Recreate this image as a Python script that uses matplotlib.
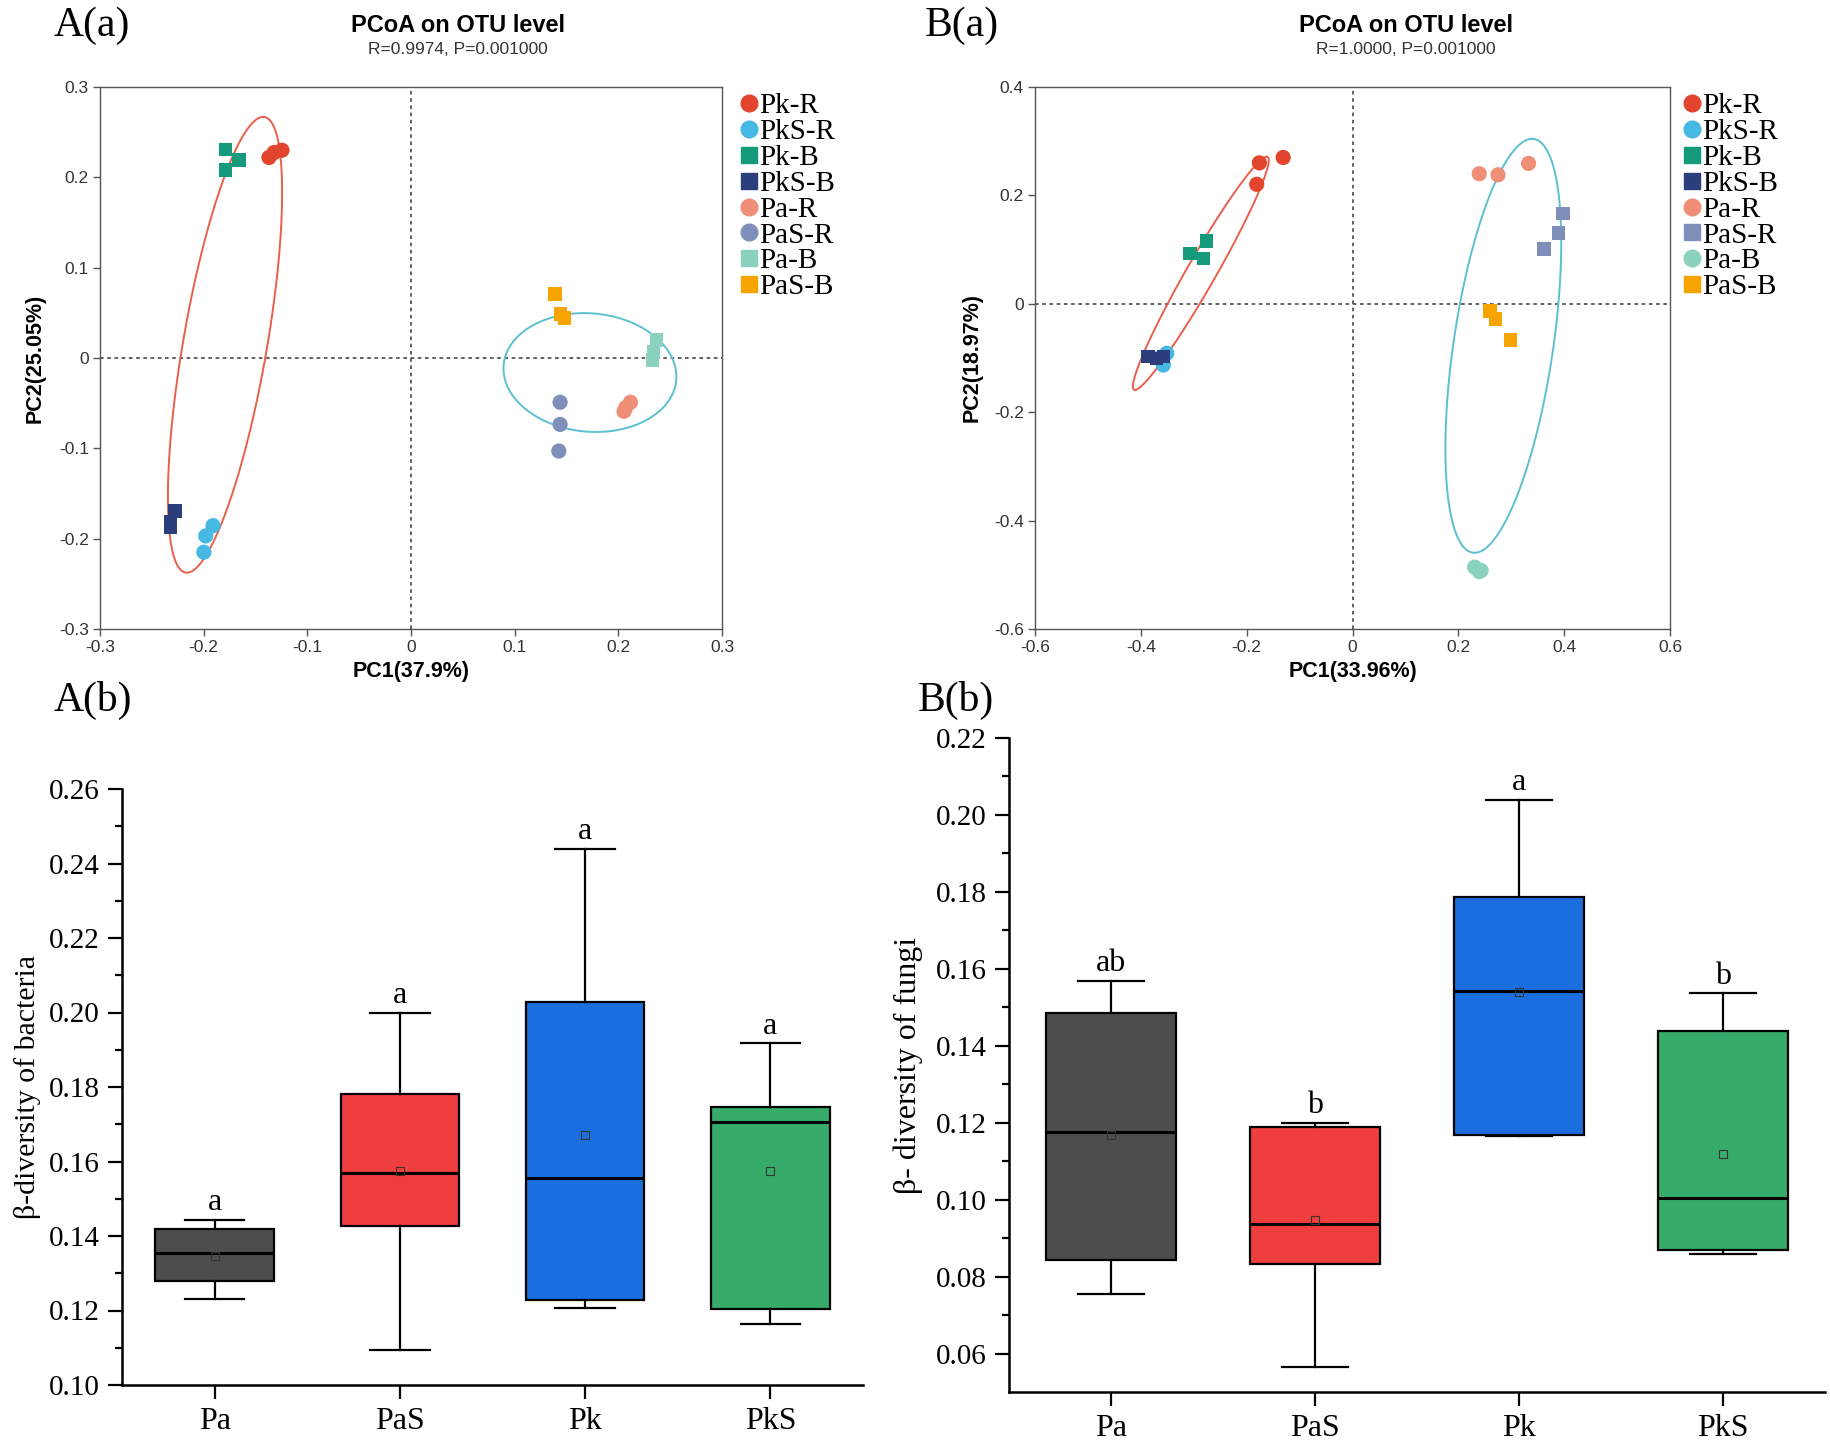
import numpy as np
import matplotlib
matplotlib.use("Agg")
import matplotlib.pyplot as plt
from matplotlib.lines import Line2D

SERIF = "Liberation Serif"
SANS = "Liberation Sans"

# ---------------- PCoA data ----------------
groups = ["Pk-R", "PkS-R", "Pk-B", "PkS-B", "Pa-R", "PaS-R", "Pa-B", "PaS-B"]
colors = ["#e2452e", "#45b8e3", "#169a7c", "#2c3f7c", "#f08f78", "#7f8fba", "#8ad2bf", "#f7a400"]
markers_A = ["o", "o", "s", "s", "o", "o", "s", "s"]
markers_B = ["o", "o", "s", "s", "o", "s", "o", "s"]

# bacteria (A)
pcA_x = [
    [-0.137, -0.132, -0.1245],
    [-0.191, -0.198, -0.1998],
    [-0.179, -0.179, -0.166],
    [-0.2275, -0.232, -0.232],
    [0.2117, 0.207, 0.2055],
    [0.1438, 0.1438, 0.1426],
    [0.2366, 0.234, 0.233],
    [0.139, 0.144, 0.148],
]
pcA_y = [
    [0.222, 0.2275, 0.230],
    [-0.1856, -0.197, -0.215],
    [0.231, 0.208, 0.219],
    [-0.1695, -0.181, -0.187],
    [-0.049, -0.055, -0.059],
    [-0.049, -0.0735, -0.103],
    [0.020, 0.007, -0.002],
    [0.071, 0.049, 0.044],
]
# fungi (B)
pcB_x = [
    [-0.176, -0.131, -0.181],
    [-0.351, -0.3575, -0.365],
    [-0.2755, -0.307, -0.282],
    [-0.386, -0.370, -0.3575],
    [0.2395, 0.275, 0.3327],
    [0.398, 0.389, 0.3615],
    [0.2307, 0.2395, 0.243],
    [0.2595, 0.2706, 0.2983],
]
pcB_y = [
    [0.260, 0.270, 0.2205],
    [-0.0914, -0.113, -0.100],
    [0.1159, 0.0931, 0.084],
    [-0.0975, -0.1006, -0.0975],
    [0.240, 0.238, 0.259],
    [0.167, 0.131, 0.101],
    [-0.486, -0.494, -0.492],
    [-0.013, -0.0276, -0.0666],
]

# group ellipses: centre, conjugate semi-diameters u and v
ellA_center = [(-0.1794, 0.0146), (0.1726, -0.0161)]
ellA_u = [(0.0368, 0.2523), (-0.0057, 0.0658)]
ellA_v = [(0.041, 0.0), (0.0832, 0.0)]
ellB_center = [(-0.2866, 0.0562), (0.285, -0.0775)]
ellB_u = [(0.1245, 0.2152), (0.0544, 0.3819)]
ellB_v = [(0.0315, 0.0), (0.095, 0.0)]
ell_colors = ["#e8604a", "#5cc0d0"]

ticksA = [-0.3, -0.2, -0.1, 0, 0.1, 0.2, 0.3]
ticksB_x = [-0.6, -0.4, -0.2, 0, 0.2, 0.4, 0.6]
ticksB_y = [-0.6, -0.4, -0.2, 0, 0.2, 0.4]

# ---------------- box plot data ----------------
cats = ["Pa", "PaS", "Pk", "PkS"]
box_colors = ["#4d4d4d", "#ef3e3e", "#1b6ede", "#36ab6a"]

bac_whislo = [0.1232, 0.1094, 0.1208, 0.1165]
bac_q1 = [0.1280, 0.1427, 0.1228, 0.1204]
bac_med = [0.1354, 0.1570, 0.1555, 0.1707]
bac_q3 = [0.1419, 0.1781, 0.2028, 0.1745]
bac_whishi = [0.1444, 0.2000, 0.2439, 0.1917]
bac_mean = [0.1346, 0.1574, 0.1670, 0.1574]
bac_letters = ["a", "a", "a", "a"]

fun_whislo = [0.0756, 0.0566, 0.1165, 0.0859]
fun_q1 = [0.0842, 0.0834, 0.1169, 0.0868]
fun_med = [0.1175, 0.0936, 0.1543, 0.1004]
fun_q3 = [0.1486, 0.1189, 0.1787, 0.1439]
fun_whishi = [0.1568, 0.1199, 0.2040, 0.1536]
fun_mean = [0.1167, 0.0946, 0.1540, 0.1119]
fun_letters = ["ab", "b", "a", "b"]

W, H = 1831, 1448
fig = plt.figure(figsize=(W / 100, H / 100), dpi=100)


def px_axes(x0, y0, x1, y1):
    return fig.add_axes([x0 / W, 1 - y1 / H, (x1 - x0) / W, (y1 - y0) / H])


def fmt(v):
    return "0" if abs(v) < 1e-9 else f"{v:g}"


def pcoa(ax, xs, ys, mks, cen, us, vs, xt, yt, xlab, ylab, sub, title_x, ylab_x, leg_x):
    t = np.linspace(0, 2 * np.pi, 300)
    for c, u, v, col in zip(cen, us, vs, ell_colors):
        ax.plot(c[0] + u[0] * np.cos(t) + v[0] * np.sin(t),
                c[1] + u[1] * np.cos(t) + v[1] * np.sin(t), color=col, lw=1.4, zorder=2)
    for gx, gy, m, col in zip(xs, ys, mks, colors):
        ax.scatter(gx, gy, marker=m, s=120 if m == "o" else 95, color=col, edgecolors="none", zorder=3)
    ax.axhline(0, color="#555555", lw=1.3, ls=(0, (2, 2)), zorder=1)
    ax.axvline(0, color="#555555", lw=1.3, ls=(0, (2, 2)), zorder=1)
    ax.set_xlim(xt[0], xt[-1])
    ax.set_ylim(yt[0], yt[-1])
    ax.set_xticks(xt)
    ax.set_yticks(yt)
    ax.set_xticklabels([fmt(v) for v in xt], fontfamily=SANS, fontsize=12.5, color="#333333")
    ax.set_yticklabels([fmt(v) for v in yt], fontfamily=SANS, fontsize=12.5, color="#333333")
    ax.tick_params(direction="out", length=5, width=1, color="#555555", pad=3)
    for s in ax.spines.values():
        s.set_color("#555555")
        s.set_linewidth(1.0)
    ax.set_xlabel(xlab, fontfamily=SANS, fontweight="bold", fontsize=15.5, labelpad=4)
    fig.text(ylab_x / W, 1 - 358 / H, ylab, fontfamily=SANS, fontweight="bold", fontsize=15.5,
             rotation=90, ha="center", va="center")
    fig.text(title_x / W, 1 - 26 / H, "PCoA on OTU level", fontfamily=SANS, fontweight="bold",
             fontsize=17, ha="center", va="center")
    fig.text(title_x / W, 1 - 49 / H, sub, fontfamily=SANS, fontsize=12.5, color="#333333",
             ha="center", va="center")
    handles = [Line2D([], [], ls="none", marker=m, color=c, markersize=12 if m == "o" else 11)
               for m, c in zip(mks, colors)]
    fig.legend(handles, groups, loc="upper left", bbox_to_anchor=(leg_x / W, 1 - 93 / H),
               frameon=False, prop={"family": SERIF, "size": 21}, handlelength=0.6,
               handletextpad=0.05, labelspacing=-0.02, borderpad=0, borderaxespad=0)


axA = px_axes(100, 87, 722, 629)
pcoa(axA, pcA_x, pcA_y, markers_A, ellA_center, ellA_u, ellA_v, ticksA, ticksA,
     "PC1(37.9%)", "PC2(25.05%)", "R=0.9974, P=0.001000", 458, 35, 740)

axB = px_axes(1035, 87, 1670, 629)
pcoa(axB, pcB_x, pcB_y, markers_B, ellB_center, ellB_u, ellB_v, ticksB_x, ticksB_y,
     "PC1(33.96%)", "PC2(18.97%)", "R=1.0000, P=0.001000", 1406, 972, 1683)


def boxes(ax, wlo, q1, med, q3, whi, mean, letters, ylim, yt, ylab, ylab_x, tick_fs, lab_fs, ylab_fs):
    stats = [dict(whislo=a, q1=b, med=c, q3=d, whishi=e, mean=f, fliers=[])
             for a, b, c, d, e, f in zip(wlo, q1, med, q3, whi, mean)]
    bp = ax.bxp(stats, positions=[1, 2, 3, 4], widths=0.64, capwidths=0.32, patch_artist=True,
                showmeans=True, showfliers=False,
                boxprops=dict(edgecolor="black", linewidth=1.6),
                medianprops=dict(color="black", linewidth=2.2),
                whiskerprops=dict(color="black", linewidth=1.6),
                capprops=dict(color="black", linewidth=1.6),
                meanprops=dict(marker="s", markersize=5.5, markerfacecolor="none",
                               markeredgecolor="#333333", markeredgewidth=0.8))
    for patch, col in zip(bp["boxes"], box_colors):
        patch.set_facecolor(col)
    for i, (top, lt) in enumerate(zip(whi, letters)):
        ax.annotate(lt, (i + 1, top), xytext=(0, 7), textcoords="offset points", ha="center",
                    va="baseline", fontfamily=SERIF, fontsize=lab_fs)
    ax.set_xlim(0.5, 4.5)
    ax.set_ylim(*ylim)
    ax.set_yticks(yt)
    ax.set_yticklabels([f"{v:.2f}" for v in yt], fontfamily=SERIF, fontsize=tick_fs)
    minor = [round(v + 0.01, 3) for v in yt if v + 0.01 < ylim[1]]
    if yt[0] - 0.01 > ylim[0]:
        minor.append(round(yt[0] - 0.01, 3))
    ax.set_yticks(minor, minor=True)
    ax.set_xticks([1, 2, 3, 4])
    ax.set_xticklabels(cats, fontfamily=SERIF, fontsize=lab_fs)
    ax.tick_params(axis="both", which="major", direction="out", length=10, width=1.6, pad=6)
    ax.tick_params(axis="y", which="minor", direction="out", length=5, width=1.6)
    ax.tick_params(axis="x", which="minor", bottom=False)
    for s in ["top", "right"]:
        ax.spines[s].set_visible(False)
    for s in ["left", "bottom"]:
        ax.spines[s].set_linewidth(1.8)
    pos = ax.get_position()
    fig.text(ylab_x / W, pos.y0 + pos.height / 2, ylab, fontfamily=SERIF, fontsize=ylab_fs,
             rotation=90, ha="center", va="center")


bac_ticks = [0.10, 0.12, 0.14, 0.16, 0.18, 0.20, 0.22, 0.24, 0.26]
fun_ticks = [0.06, 0.08, 0.10, 0.12, 0.14, 0.16, 0.18, 0.20, 0.22]

axC = px_axes(122, 789, 863, 1385)
boxes(axC, bac_whislo, bac_q1, bac_med, bac_q3, bac_whishi, bac_mean, bac_letters,
      (0.10, 0.26), bac_ticks, "β-diversity of bacteria", 28, 21, 23, 21.5)

axD = px_axes(1009, 738, 1825, 1392)
boxes(axD, fun_whislo, fun_q1, fun_med, fun_q3, fun_whishi, fun_mean, fun_letters,
      (0.05, 0.22), fun_ticks, "β- diversity of fungi", 908, 21, 23, 23)

for lbl, x, y in [("A(a)", 54, 26), ("B(a)", 925, 26), ("A(b)", 54, 700), ("B(b)", 918, 700)]:
    fig.text(x / W, 1 - y / H, lbl, fontfamily=SERIF, fontsize=30, ha="left", va="center")

fig.savefig("out.png", dpi=100)
